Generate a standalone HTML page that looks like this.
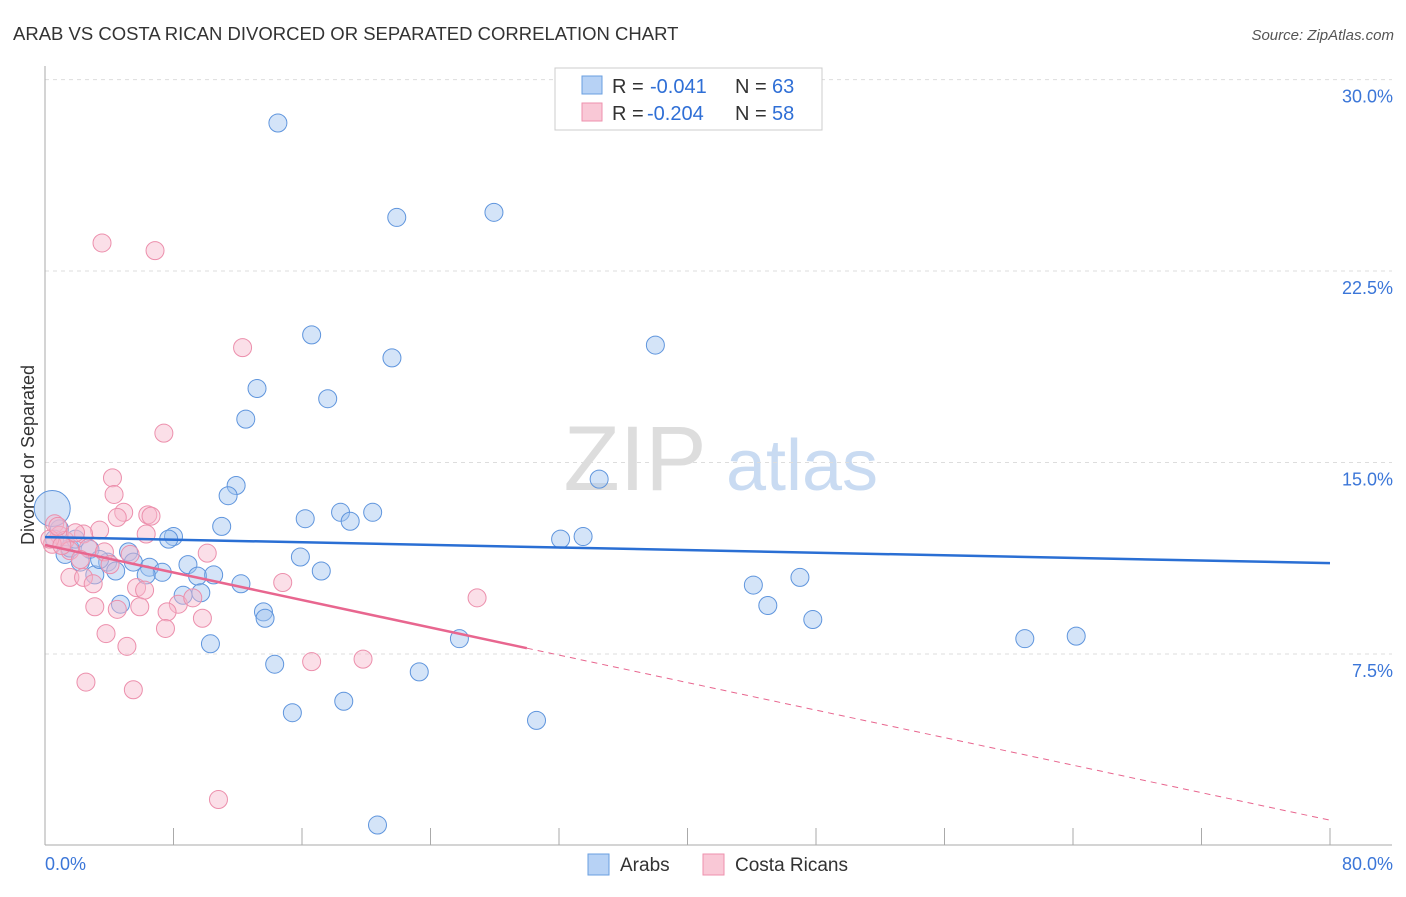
<!DOCTYPE html>
<html><head><meta charset="utf-8"><style>
body{margin:0;background:#fff;font-family:"Liberation Sans",sans-serif;}
svg text{font-family:"Liberation Sans",sans-serif;}
</style></head><body>
<svg id="chart" width="1406" height="892">
<text x="13" y="40" font-size="18.5" fill="#333">ARAB VS COSTA RICAN DIVORCED OR SEPARATED CORRELATION CHART</text>
<text x="1394" y="40" font-size="15" fill="#555" font-style="italic" text-anchor="end">Source: ZipAtlas.com</text>
<text x="34" y="455" font-size="18" fill="#333" text-anchor="middle" transform="rotate(-90 34 455)">Divorced or Separated</text>
<g>
<text x="635" y="490" font-size="92" fill="#ddd" font-family="Liberation Serif" text-anchor="middle">ZIP</text>
<text x="802" y="490" font-size="72" fill="#c9dbf2" text-anchor="middle">atlas</text>
</g>
<g id="grid"></g><g id="axes"></g><g id="pts"></g><g id="lines"></g>
<g>
<rect x="555" y="68" width="267" height="62" fill="#fff" stroke="#ccc"/>
<rect x="582" y="76" width="20" height="18" fill="#b7d2f5" stroke="#6a9fe0"/>
<rect x="582" y="103" width="20" height="18" fill="#f9c8d6" stroke="#ee91ad"/>
<text x="612" y="93" font-size="20" fill="#333">R =</text>
<text x="650" y="93" font-size="20" fill="#2f6fd6">-0.041</text>
<text x="735" y="93" font-size="20" fill="#333">N =</text>
<text x="772" y="93" font-size="20" fill="#2f6fd6">63</text>
<text x="612" y="120" font-size="20" fill="#333">R =</text>
<text x="647" y="120" font-size="20" fill="#2f6fd6">-0.204</text>
<text x="735" y="120" font-size="20" fill="#333">N =</text>
<text x="772" y="120" font-size="20" fill="#2f6fd6">58</text>
</g>
<g>
<rect x="588" y="854" width="21" height="21" fill="#b7d2f5" stroke="#6a9fe0"/>
<text x="620" y="871" font-size="19" fill="#333">Arabs</text>
<rect x="703" y="854" width="21" height="21" fill="#f9c8d6" stroke="#ee91ad"/>
<text x="735" y="871" font-size="19" fill="#333">Costa Ricans</text>
</g>
</svg>
<script>
const yTicks=[7.5,15,22.5,30];
const yTickLabels=["7.5%","15.0%","22.5%","30.0%"];
const xTickCount=10;
const xLabels=["0.0%","80.0%"];
const arabX=[14.5,21.9,27.95,16.6,21.6,38.0,13.2,17.6,12.5,34.5,11.9,11.4,18.4,20.4,16.2,19.0,11.0,33.5,32.1,8.0,7.7,5.2,15.9,8.9,5.5,3.9,2.2,4.4,6.5,7.3,6.3,9.5,10.5,17.2,3.1,12.2,8.6,9.7,44.1,47.0,45.0,4.7,13.6,13.7,47.8,25.8,61.0,64.2,10.3,14.3,23.3,15.4,18.6,30.6,20.7,0.9,0.6,1.25,1.55,2.8,3.4,1.9,0.45];
const arabY=[28.3,24.6,24.8,20.0,19.1,19.6,17.9,17.5,16.7,14.35,14.1,13.7,13.05,13.05,12.8,12.7,12.5,12.1,12.0,12.1,12.0,11.5,11.3,11.0,11.1,11.1,11.1,10.75,10.9,10.7,10.6,10.55,10.6,10.75,10.6,10.25,9.8,9.9,10.2,10.5,9.4,9.45,9.15,8.9,8.85,8.1,8.1,8.2,7.9,7.1,6.8,5.2,5.65,4.9,0.8,12.4,12.0,11.4,11.65,11.6,11.2,12.0,13.2];
const costaX=[3.55,6.85,12.3,7.4,4.2,4.3,4.9,6.4,6.6,4.5,6.3,3.4,2.4,0.6,0.9,1.25,0.45,1.55,2.7,3.7,5.3,2.2,4.05,10.1,1.55,2.4,3.0,5.7,6.2,14.8,3.1,4.5,5.9,8.3,9.2,7.6,9.8,26.9,7.5,3.8,5.1,16.6,19.8,2.55,5.5,10.8,0.3,0.8,1.05,1.9];
const costaY=[23.6,23.3,19.5,16.15,14.4,13.75,13.05,12.95,12.9,12.85,12.2,12.35,12.2,12.6,12.15,11.95,11.8,11.55,11.65,11.5,11.4,11.2,11.0,11.45,10.5,10.5,10.25,10.1,10.0,10.3,9.35,9.25,9.35,9.45,9.7,9.15,8.9,9.7,8.5,8.3,7.8,7.2,7.3,6.4,6.1,1.8,12.0,12.5,11.75,12.25];
const arabTrend=[12.08,11.06];
const costaTrend=[11.77,0.99];
const NS="http://www.w3.org/2000/svg";
const X=v=>45+v/80*1285, Y=v=>654-(v-7.5)*25.53;
function mk(p,t,a){const e=document.createElementNS(NS,t);for(const k in a)e.setAttribute(k,a[k]);document.getElementById(p).appendChild(e);return e;}
yTicks.forEach((t,i)=>{
 const g=mk('grid','line',{x1:45,x2:1392,y1:Y(t),y2:Y(t),stroke:'#ddd','stroke-dasharray':'4,4'});
 
 
 const l=mk('axes','text',{x:1393,y:Y(t)+23,'font-size':18,fill:'#3b76d8','text-anchor':'end'});
 l.textContent=yTickLabels[i];
 
 
});
const ax=mk('axes','line',{x1:45,x2:1392,y1:845,y2:845,stroke:'#aaa'});


const ay=mk('axes','line',{x1:45,x2:45,y1:66,y2:845,stroke:'#aaa'});


for(let i=1;i<=xTickCount;i++){const t=mk('axes','line',{x1:X(i*8),x2:X(i*8),y1:828,y2:845,stroke:'#aaa'});
 
 }
const xl0=mk('axes','text',{x:45,y:870,'font-size':18,fill:'#3b76d8'});xl0.textContent=xLabels[0];


const xl1=mk('axes','text',{x:1393,y:870,'font-size':18,fill:'#3b76d8','text-anchor':'end'});xl1.textContent=xLabels[1];


arabX.forEach((x,i)=>{const c=mk('pts','circle',{cx:X(x),cy:Y(arabY[i]),r:i==arabX.length-1?18:9,fill:'rgba(160,196,240,0.45)',stroke:'#5f95dd','stroke-width':1});
 
 });
costaX.forEach((x,i)=>{const c=mk('pts','circle',{cx:X(x),cy:Y(costaY[i]),r:9,fill:'rgba(247,184,204,0.45)',stroke:'#ec8fac','stroke-width':1});
 
 });
const bl=mk('lines','line',{x1:X(0),y1:Y(arabTrend[0]),x2:X(80),y2:Y(arabTrend[1]),stroke:'#2a6fd4','stroke-width':2.5});


const cy30=costaTrend[0]+(costaTrend[1]-costaTrend[0])*30/80;
const pl=mk('lines','line',{x1:X(0),y1:Y(costaTrend[0]),x2:X(30),y2:Y(cy30),stroke:'#e8668f','stroke-width':2.5});


const pd=mk('lines','line',{x1:X(30),y1:Y(cy30),x2:X(80),y2:Y(costaTrend[1]),stroke:'#e8668f','stroke-width':1,'stroke-dasharray':'6,5'});


</script>
</body></html>
